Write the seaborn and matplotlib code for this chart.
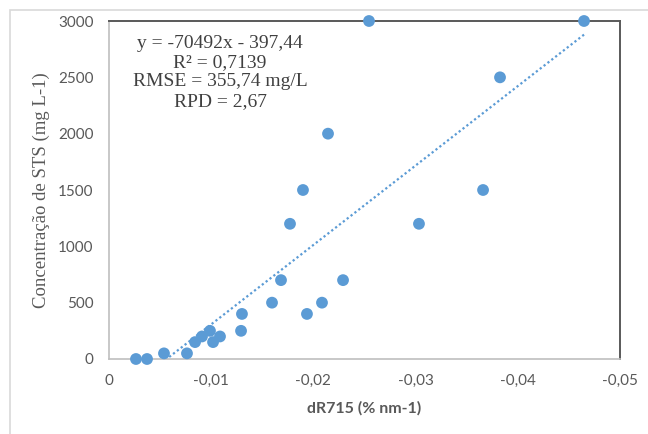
import numpy as np
import pandas as pd
import matplotlib
matplotlib.use("Agg")
import matplotlib.pyplot as plt
from matplotlib.ticker import FuncFormatter, MultipleLocator
from matplotlib.patches import Rectangle
import seaborn as sns

# data
dr715 = [-0.00264, -0.00372, -0.00538, -0.00763, -0.00842, -0.0091, -0.00988, -0.01018,
         -0.01086, -0.01292, -0.01301, -0.01595, -0.01683, -0.01937, -0.02084, -0.0229,
         -0.01771, -0.01898, -0.02143, -0.02544, -0.03033, -0.0366, -0.03826, -0.04648]
sts = [0, 0, 50, 50, 150, 200, 250, 150,
       200, 250, 400, 500, 700, 400, 500, 700,
       1200, 1500, 2000, 3000, 1200, 1500, 2500, 3000]
slope = -70492
intercept = -397.44
eq_lines = ["y = -70492x - 397,44", "R² = 0,7139", "RMSE = 355,74 mg/L", "RPD = 2,67"]

df = pd.DataFrame({"dR715": dr715, "STS": sts})

sns.set_theme(style="white")
plt.rcParams["font.family"] = ["Lato", "DejaVu Sans"]

blue = "#5B9BD5"
grey = "#595959"
serif = ["Liberation Serif", "DejaVu Serif"]

fig = plt.figure(figsize=(6.48, 4.34), dpi=100)
ax = fig.add_axes([109/648, 1-359/434, 511/648, 338/434])

# trendline, clipped where it meets y = 0 (as Excel does)
x0 = -intercept / slope
xt = np.linspace(x0, min(dr715), 100)
trend = pd.DataFrame({"x": xt, "y": slope * xt + intercept})
sns.lineplot(data=trend, x="x", y="y", ax=ax, color=blue, linestyle=(0, (1, 1.2)),
             linewidth=1.6, zorder=2)

sns.scatterplot(data=df, x="dR715", y="STS", ax=ax, color=blue, s=72,
                edgecolor="none", zorder=3, clip_on=False)

ax.set_xlim(0, -0.05)
ax.set_ylim(0, 3000)
ax.xaxis.set_major_locator(MultipleLocator(0.01))
ax.yaxis.set_major_locator(MultipleLocator(500))
ax.xaxis.set_major_formatter(FuncFormatter(lambda v, p: "0" if abs(v) < 1e-9 else f"{v:.2f}".replace(".", ",")))
ax.yaxis.set_major_formatter(FuncFormatter(lambda v, p: f"{int(v)}"))
ax.tick_params(length=0, labelsize=11, labelcolor=grey)
ax.tick_params(axis="y", pad=11)
ax.tick_params(axis="x", pad=11)

for side in ["left", "bottom"]:
    ax.spines[side].set_color("#bfbfbf")
    ax.spines[side].set_linewidth(1.2)
for side in ["top", "right"]:
    ax.spines[side].set_color("#595959")
    ax.spines[side].set_linewidth(1.4)

ax.set_xlabel("dR715 (% nm-1)", fontsize=11.5, fontweight="bold", color=grey, labelpad=9)
ax.set_ylabel("Concentração de STS (mg L-1)", family=serif,
              fontsize=13.5, color=grey, labelpad=6)

fig.text(220/648, 1-35/434, "\n".join(eq_lines),
         ha="center", va="top", family=serif,
         fontsize=14, color="#404040", linespacing=1.17)

# outer chart frame (cut off at right and bottom)
fig.patches.append(Rectangle((10/648, -0.1), 1.2, 1-10/434+0.1, transform=fig.transFigure,
                             fill=False, edgecolor="#d9d9d9", linewidth=1.2))

fig.savefig("out.png", dpi=100)
